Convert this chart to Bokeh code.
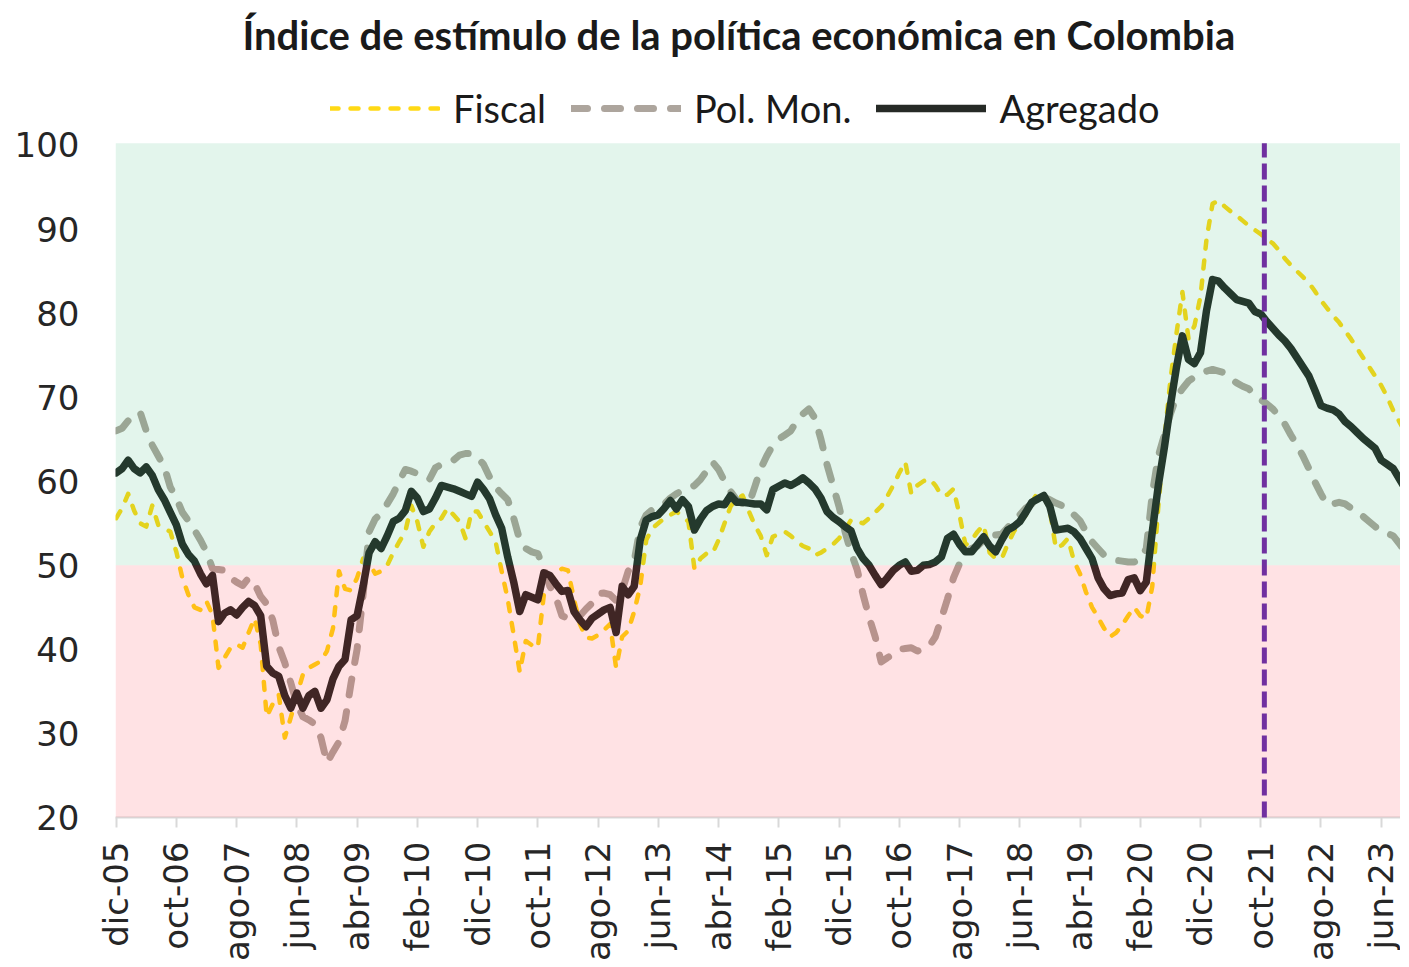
import numpy as np
from bokeh.plotting import figure
from bokeh.models import Range1d, FixedTicker, BoxAnnotation, Legend, LegendItem
from bokeh.embed import file_html
from bokeh.resources import INLINE

# ---------------- data (monthly, dic-05 onwards) ----------------
agregado = [
    61.0, 61.5, 62.5, 61.5, 61.0, 61.7, 60.7, 59.0, 57.8, 56.3,
    54.8, 52.5, 51.3, 50.5, 49.0, 47.8, 48.8, 43.3, 44.3, 44.7,
    44.1, 45.0, 45.7, 45.2, 44.0, 38.0, 37.2, 36.8, 34.5, 33.0,
    34.8, 33.0, 34.5, 35.0, 33.0, 34.0, 36.5, 38.0, 38.8, 43.5,
    44.0, 47.5, 51.5, 52.8, 52.0, 53.5, 55.2, 55.6, 56.5, 58.8,
    58.0, 56.4, 56.7, 58.0, 59.5, 59.3, 59.1, 58.8, 58.5, 58.2,
    59.9, 59.0, 57.9, 56.0, 54.4, 51.0, 48.0, 44.5, 46.5, 46.2,
    45.9, 49.1, 48.8, 47.8, 46.9, 47.0, 44.5, 43.5, 42.7, 43.7,
    44.2, 44.7, 45.0, 42.0, 47.5, 46.5, 47.5, 53.0, 55.4, 55.8,
    56.0, 56.8, 57.7, 56.7, 57.8, 57.0, 54.2, 55.5, 56.5, 57.0,
    57.3, 57.2, 58.3, 57.5, 57.5, 57.4, 57.3, 57.3, 56.6, 59.0,
    59.4, 59.8, 59.5, 59.9, 60.4, 59.8, 59.1, 58.0, 56.4, 55.7,
    55.2, 54.6, 54.1, 52.0, 50.8, 50.0, 48.8, 47.7, 48.5, 49.4,
    50.0, 50.4, 49.3, 49.4, 50.0, 50.1, 50.4, 51.0, 53.2, 53.7,
    52.5, 51.6, 51.6, 52.5, 53.4, 52.3, 51.6, 53.0, 54.2, 54.6,
    55.2, 56.3, 57.5, 57.9, 58.3, 57.0, 54.2, 54.3, 54.4, 54.0,
    53.2, 52.0, 50.8, 48.5, 47.2, 46.4, 46.6, 46.7, 48.3, 48.5,
    47.0, 48.0, 54.0, 59.5, 64.0, 69.0, 73.5, 77.3, 74.5, 74.0,
    75.3, 80.3, 84.0, 83.8, 83.0, 82.3, 81.6, 81.4, 81.2, 80.2,
    79.9, 79.0, 78.2, 77.4, 76.7, 75.8, 74.7, 73.6, 72.5, 70.8,
    69.0, 68.7, 68.5, 68.0, 67.1, 66.5, 65.8, 65.1, 64.5, 63.9,
    62.5, 62.0, 61.5, 60.3, 59.1,
]

pol_mon = [
    66.0, 66.3, 67.2, 67.5, 68.2, 66.0, 64.3, 63.0, 61.7, 59.3,
    58.0, 56.3, 55.3, 54.2, 53.0, 51.6, 49.6, 49.5, 49.4, 48.5,
    48.0, 47.6, 48.5, 47.8, 46.3, 45.4, 43.5, 40.3, 38.4, 36.0,
    33.5, 32.0, 31.6, 31.1, 29.5, 26.5, 27.8, 29.0, 31.5, 36.0,
    40.0, 46.5, 54.0, 55.5, 56.2, 57.3, 58.5, 60.0, 61.4, 61.2,
    60.9, 60.5, 60.2, 61.6, 62.0, 62.1, 62.5, 63.1, 63.3, 63.3,
    62.8, 62.0, 60.5, 59.3, 58.5, 57.8, 55.6, 53.0, 52.0, 51.6,
    51.4, 49.6, 47.5, 46.2, 44.0, 43.7, 43.5, 44.0, 44.8, 45.5,
    46.6, 46.7, 46.5, 45.8, 47.0, 49.3, 50.5, 54.5, 56.0, 56.6,
    57.0, 57.3, 58.0, 58.5, 58.9, 59.1, 59.5, 60.2, 61.2, 62.3,
    61.4, 60.0, 58.8, 57.8, 57.3, 57.2, 59.3, 61.5, 63.0, 64.3,
    65.0, 65.5, 66.0, 67.2, 68.0, 68.6, 67.5, 65.0, 62.0, 59.5,
    57.0, 54.0, 51.5, 49.5, 46.5, 43.8, 41.5, 38.5, 39.0, 39.4,
    40.0, 40.1, 40.2, 39.8, 40.0, 40.4, 41.5, 43.7, 46.0, 48.5,
    50.2, 51.4, 52.0, 52.3, 53.0, 53.6, 53.6, 53.7, 54.5, 55.2,
    56.0, 56.8, 57.3, 57.8, 58.1, 57.8, 57.4, 57.1, 56.9, 56.0,
    55.3, 54.0, 52.8, 52.0, 51.2, 50.9, 50.6, 50.5, 50.4, 50.4,
    50.6, 52.0, 58.5, 63.0, 65.5, 68.0, 70.0, 71.0, 71.9, 72.4,
    72.8, 73.1, 73.3, 73.1, 72.9, 72.2, 71.7, 71.3, 71.0, 70.2,
    69.7, 69.2, 68.6, 67.8, 66.8, 65.5, 64.3, 63.0, 61.5, 59.9,
    58.5, 57.2, 57.3, 57.5, 57.3, 56.8, 56.5, 55.8, 55.2, 54.6,
    54.0, 53.8, 53.5, 52.6, 51.6,
]

fiscal = [
    55.6, 56.8, 58.5, 56.5, 55.0, 54.6, 57.1, 54.8, 54.4, 54.0,
    51.6, 48.5, 46.5, 45.0, 44.7, 45.7, 44.1, 37.8, 39.0, 40.2,
    40.6, 40.2, 42.0, 43.7, 40.6, 32.0, 33.5, 34.6, 29.5, 31.9,
    34.5, 37.0, 37.8, 38.2, 38.6, 39.8, 42.5, 49.3, 47.2, 47.0,
    48.5, 50.8, 50.3, 49.0, 49.3, 50.0, 51.5, 52.8, 54.0, 57.1,
    55.2, 52.2, 54.0, 55.0, 55.6, 56.8, 56.0, 55.2, 53.2, 56.4,
    56.4, 55.2, 54.0, 52.8, 49.3, 46.0, 41.7, 37.3, 41.0, 40.5,
    40.2, 46.5, 48.0, 49.0, 49.6, 49.4, 46.0, 43.0, 41.4, 41.3,
    41.7, 42.3, 43.0, 37.8, 41.5, 42.2, 44.5, 47.5, 53.0, 54.4,
    55.0, 55.6, 56.0, 56.4, 55.8, 55.2, 49.6, 50.8, 51.4, 51.4,
    53.0, 55.0, 57.0, 57.9, 58.3, 56.5, 54.8, 53.5, 51.2, 53.4,
    53.7, 54.0, 53.5, 52.8, 52.3, 52.0, 51.2, 51.5, 52.0, 52.5,
    53.2, 54.2, 55.4, 55.2, 55.0, 55.6, 56.3, 57.0, 58.2, 59.5,
    61.0, 62.3, 58.5, 59.5, 60.0, 60.3, 59.5, 58.3, 58.4, 59.1,
    56.0, 52.4, 53.0, 54.0, 54.8, 51.5, 50.8, 50.8, 52.5, 54.0,
    55.0, 56.0, 57.5, 58.7, 58.3, 56.5, 52.0, 52.4, 53.2, 50.5,
    49.0, 46.8, 45.0, 43.8, 42.5, 41.5, 42.0, 42.9, 44.0, 45.0,
    44.0, 43.7, 47.5, 57.0, 65.0, 72.0, 77.5, 82.5, 77.0, 78.5,
    82.0, 88.8, 93.0, 93.4, 92.7, 92.1, 91.6, 91.0, 90.4, 89.9,
    89.4, 88.8, 88.3, 87.5, 86.5, 85.7, 85.0, 84.3, 83.6, 82.6,
    81.5, 80.6, 79.7, 78.9, 77.9, 76.9, 75.8, 74.7, 73.6, 72.5,
    71.4, 70.0, 68.4, 67.1, 65.8,
]

tick_months = [0, 10, 20, 30, 40, 50, 60, 70, 80, 90, 100,
               110, 120, 130, 140, 150, 160, 170, 180, 190, 200, 210]
tick_labels = ["dic-05", "oct-06", "ago-07", "jun-08", "abr-09", "feb-10",
               "dic-10", "oct-11", "ago-12", "jun-13", "abr-14", "feb-15",
               "dic-15", "oct-16", "ago-17", "jun-18", "abr-19", "feb-20",
               "dic-20", "oct-21", "ago-22", "jun-23"]
y_ticks = [20, 30, 40, 50, 60, 70, 80, 90, 100]
series_names = ["Fiscal", "Pol. Mon.", "Agregado"]
threshold = 50
y_bottom, y_top = 20, 100.2
marker_month = [190.6]

months = list(range(len(agregado)))

# ---------------- figure ----------------
# the frame is extended upward (y up to ~110) to host the legend above the data area
p = figure(width=1400, height=963,
           x_range=Range1d(-0.1, 213.2), y_range=Range1d(y_bottom, 110.05),
           output_backend="svg", toolbar_location=None,
           min_border_left=115, min_border_right=0,
           min_border_top=60, min_border_bottom=143,
           background_fill_color="white", border_fill_color="white")
p.outline_line_color = None
p.grid.visible = False

p.title.text = "Índice de estímulo de la política económica en Colombia"
p.title.text_font = "Lato"
p.title.text_font_style = "bold"
p.title.text_font_size = "40px"
p.title.text_color = "#1a1a1a"
p.title.align = "left"
p.title.offset = 127
p.title.vertical_align = "top"
p.title.standoff = 0

r_f = p.line(months, fiscal, line_color="#FFD915", line_width=4.5,
             line_dash="8 12", line_cap="round", line_join="round")
r_p = p.line(months, pol_mon, line_color="#ADA59D", line_width=7,
             line_dash="16 17", line_cap="round", line_join="round")
r_a = p.line(months, agregado, line_color="#262A26", line_width=7.5,
             line_join="round", line_cap="round")

# tinted zones (drawn over the lines, translucent, as in the original)
p.add_layout(BoxAnnotation(bottom=threshold, top=y_top, fill_color=(22, 172, 97),
                           fill_alpha=0.12, line_alpha=0))
p.add_layout(BoxAnnotation(top=threshold, fill_color=(255, 13, 30),
                           fill_alpha=0.12, line_alpha=0))

# vertical marker (oct-21)
p.segment(x0=marker_month, y0=[y_bottom], x1=marker_month, y1=[y_top],
          line_color="#7030A0", line_width=5, line_dash="16 6", level="overlay")

legend = Legend(items=[LegendItem(label=series_names[0], renderers=[r_f]),
                       LegendItem(label=series_names[1], renderers=[r_p]),
                       LegendItem(label=series_names[2], renderers=[r_a])],
                orientation="horizontal", location=(215, 686),
                glyph_width=110, glyph_height=20, label_standoff=13,
                spacing=25, padding=0, margin=0,
                label_text_font="Lato", label_text_font_size="38px",
                label_text_color="#1a1a1a",
                border_line_color=None, background_fill_alpha=0)
p.add_layout(legend)

# axes
p.yaxis.ticker = FixedTicker(ticks=y_ticks)
p.yaxis.axis_line_color = None
p.yaxis.major_tick_line_color = None
p.yaxis.minor_tick_line_color = None
p.yaxis.major_label_text_font = "DejaVu Sans"
p.yaxis.major_label_text_font_size = "34px"
p.yaxis.major_label_text_color = "#262626"
p.yaxis.major_label_standoff = 30

p.xaxis.ticker = FixedTicker(ticks=tick_months)
p.xaxis.major_label_overrides = {m: lab for m, lab in zip(tick_months, tick_labels)}
p.xaxis.major_label_orientation = np.pi / 2
p.xaxis.major_label_text_font = "DejaVu Sans"
p.xaxis.major_label_text_font_size = "34px"
p.xaxis.major_label_text_color = "#262626"
p.xaxis.axis_line_color = "#D9D9D9"
p.xaxis.axis_line_width = 2
p.xaxis.major_tick_line_color = "#D9D9D9"
p.xaxis.major_tick_line_width = 2
p.xaxis.major_tick_out = 10
p.xaxis.major_tick_in = 0
p.xaxis.minor_tick_line_color = None
p.xaxis.major_label_standoff = 14

open("out.html", "w").write(file_html(p, INLINE))
